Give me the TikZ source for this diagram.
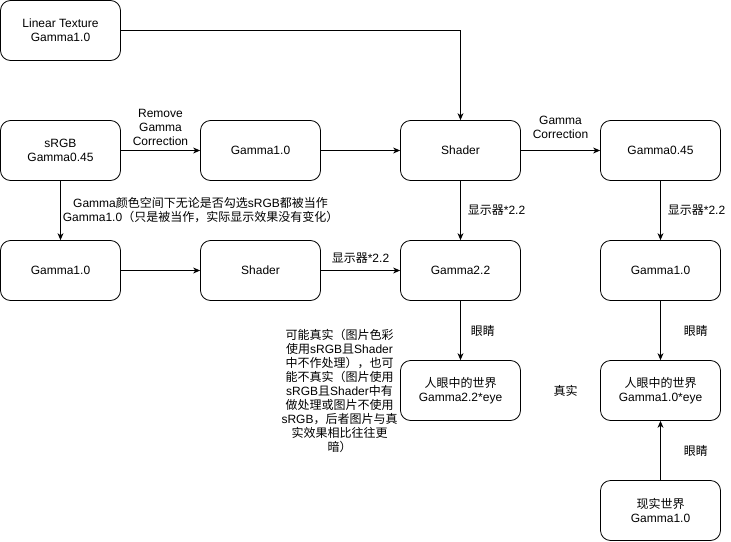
\documentclass[tikz,border=0pt]{standalone}
\usepackage{fontspec}
\setmainfont{Liberation Sans}
\newfontfamily\cjk{Noto Sans CJK SC}
\newcommand{\zh}[1]{{\cjk #1}}
\usetikzlibrary{arrows.meta, positioning}

\tikzset{
  block/.style={draw, rounded corners=10pt, minimum width=120pt, minimum height=60pt, align=center},
  note/.style={align=center, inner sep=0pt},
}

\begin{document}
\begin{tikzpicture}[>={Stealth[length=7pt,width=6pt]}, node distance=120pt and 200pt, on grid, line width=0.8pt, font=\fontsize{12}{14}\selectfont]
   \useasboundingbox (0,0) rectangle (731pt,-541pt);
   \node[block] (lin) at (60.5pt,-30.5pt) {Linear Texture\\Gamma1.0};
   \node[block] (srgb) [below=of lin] {sRGB\\Gamma0.45};
   \node[block] (linA) [right=of srgb] {Gamma1.0};
   \node[block] (shaderA) [right=of linA] {Shader};
   \node[block] (gcorr) [right=of shaderA] {Gamma0.45};
   \node[block] (linB) [below=of srgb] {Gamma1.0};
   \node[block] (shaderB) [right=of linB] {Shader};
   \node[block] (disp) [below=of shaderA] {Gamma2.2};
   \node[block] (linC) [below=of gcorr] {Gamma1.0};
   \node[block] (eyeA) [below=of disp] {\zh{人眼中的世界}\\Gamma2.2*eye};
   \node[block] (eyeB) [below=of linC] {\zh{人眼中的世界}\\Gamma1.0*eye};
   \node[block] (world) [below=of eyeB] {\zh{现实世界}\\Gamma1.0};
   \node[note] (truth) [right=105pt of eyeA] {\zh{真实}};
   \node[note] (maybe) [left=121pt of eyeA] {\zh{可能真实（图片色彩}\\
     \zh{使用}sRGB\zh{且}Shader\\
     \zh{中不作处理），也可}\\
     \zh{能不真实（图片使用}\\
     sRGB\zh{且}Shader\zh{中有}\\
     \zh{做处理或图片不使用}\\
     sRGB\zh{，后者图片与真}\\
     \zh{实效果相比往往更}\\
     \zh{暗）}};

   \draw[->] (lin) -| (shaderA);
   \path[->]
    (srgb) edge node[above=4pt, note] {Remove\\Gamma\\Correction} (linA)
           edge node[right=2pt, note] {Gamma\zh{颜色空间下无论是否勾选}sRGB\zh{都被当作}\\Gamma1.0\zh{（只是被当作，实际显示效果没有变化）}} (linB)
    (linA) edge (shaderA)
    (shaderA) edge node[above=11pt, note] {Gamma\\Correction} (gcorr)
              edge node[right=7pt, note] {\zh{显示器}*2.2} (disp)
    (linB) edge (shaderB)
    (shaderB) edge node[above=7pt, note] {\zh{显示器}*2.2} (disp)
    (gcorr) edge node[right=7pt, note] {\zh{显示器}*2.2} (linC)
    (disp) edge node[right=10pt, note] {\zh{眼睛}} (eyeA)
    (linC) edge node[right=23pt, note] {\zh{眼睛}} (eyeB)
    (world) edge node[right=23pt, note] {\zh{眼睛}} (eyeB);
\end{tikzpicture}
\end{document}
